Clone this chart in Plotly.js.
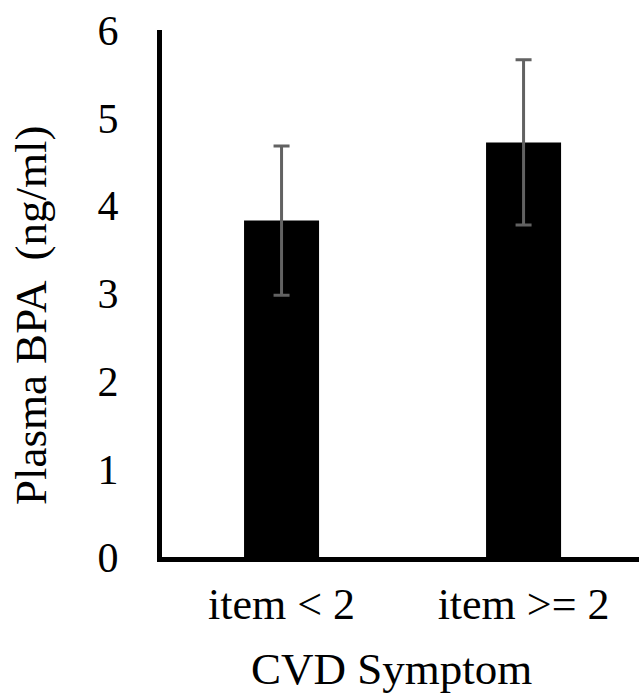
<!DOCTYPE html>
<html>
<head>
<meta charset="utf-8">
<script src="https://cdn.plot.ly/plotly-3.0.1.min.js"></script>
<style>
html,body{margin:0;padding:0;background:#fff;overflow:hidden;}
#chart{width:639px;height:697px;}
</style>
</head>
<body>
<div id="chart"></div>
<script>
var categories = ["item < 2", "item >= 2"];
var meanBPA = [3.83, 4.72];
var errBPA = [0.85, 0.94];
var yTickVals = [0, 1, 2, 3, 4, 5, 6];
var yTitle = "Plasma BPA  (ng/ml)";
var xTitle = "CVD Symptom";

var FONT = "Liberation Serif";

var trace = {
  type: "bar",
  x: categories,
  y: meanBPA,
  width: 0.31,
  marker: {color: "#000000", line: {width: 0}},
  error_y: {
    type: "data",
    array: errBPA,
    visible: true,
    color: "#626262",
    thickness: 3,
    width: 8
  },
  hoverinfo: "none"
};

var layout = {
  width: 639,
  height: 697,
  margin: {l: 162, r: 0, t: 30, b: 140, pad: 0},
  paper_bgcolor: "#ffffff",
  plot_bgcolor: "#ffffff",
  showlegend: false,
  font: {family: FONT, color: "#000000"},
  xaxis: {
    type: "category",
    range: [-0.494, 1.477],
    showline: true,
    linecolor: "#000000",
    linewidth: 5,
    showgrid: false,
    zeroline: false,
    ticks: "",
    ticklabelstandoff: 4,
    tickfont: {family: FONT, size: 44, color: "#000000"}
  },
  yaxis: {
    range: [0, 6],
    tickvals: yTickVals,
    ticktext: yTickVals.map(String),
    showline: true,
    linecolor: "#000000",
    linewidth: 5,
    showgrid: false,
    zeroline: false,
    ticks: "",
    ticklabelstandoff: 30,
    tickfont: {family: FONT, size: 42, color: "#000000"}
  },
  annotations: [{
    text: yTitle,
    xref: "paper", yref: "paper",
    x: -0.2746, y: 0.459,
    xanchor: "center", yanchor: "middle",
    textangle: -90,
    showarrow: false,
    font: {family: FONT, size: 45, color: "#000000"}
  }, {
    text: xTitle,
    xref: "paper", yref: "paper",
    x: 0.481, y: -0.2125,
    xanchor: "center", yanchor: "middle",
    showarrow: false,
    font: {family: FONT, size: 45, color: "#000000"}
  }]
};

Plotly.newPlot("chart", [trace], layout, {staticPlot: true, displayModeBar: false});
</script>
</body>
</html>
